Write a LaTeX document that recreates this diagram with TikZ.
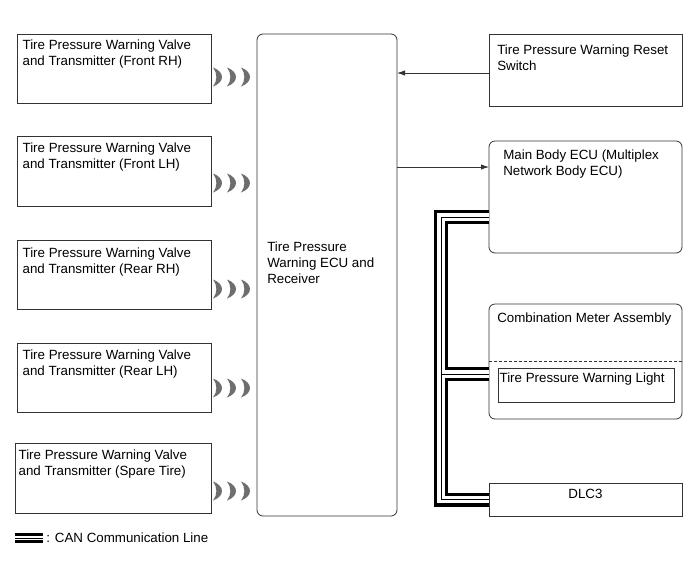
\documentclass[tikz,border=0pt]{standalone}
\usepackage{fontspec}
\setmainfont{Liberation Sans}
\usepackage{tikz}
\usetikzlibrary{arrows.meta, positioning}
\definecolor{boxline}{HTML}{333333}
\definecolor{wavegray}{HTML}{6E6E6E}

\begin{document}
\begin{tikzpicture}[x=0.75pt, y=-0.75pt, >={Latex[length=6pt,width=4pt]},
  every node/.style={font=\fontsize{10}{12}\selectfont},
  unit/.style={draw=boxline, line width=0.6pt, rectangle, anchor=north west, inner sep=0pt, outer sep=0pt},
  roundunit/.style={unit, rounded corners=4.5pt},
  txt/.style={anchor=north west, align=left, inner sep=0pt},
  canline/.style={line width=0.75pt, preaction={draw, line width=10.5pt}, preaction={draw=white, line width=5.4pt}},
  canlegend/.style={line width=0.6pt, preaction={draw, line width=7pt}, preaction={draw=white, line width=3.5pt}},
  waves/.pic={
    \foreach \dx in {0,14,28}
      \fill[wavegray] (\dx,-9.5) .. controls (\dx+12,-5) and (\dx+12,5) .. (\dx,9.5)
        .. controls (\dx+4.5,4) and (\dx+4.5,-4) .. cycle;
  }]

\useasboundingbox (0,0) rectangle (690,562);

% Transmitters on the left
\node[unit, minimum width=145.5pt, minimum height=51.75pt] (fr) at (17,34) {};
\node[txt, below right=4.5pt and 4pt of fr.north west] (frt) {Tire Pressure Warning Valve\\and Transmitter (Front RH)};
\node[unit, minimum width=145.5pt, minimum height=52.5pt] (fl) at (17,136) {};
\node[txt, below right=5pt and 4pt of fl.north west] (flt) {Tire Pressure Warning Valve\\and Transmitter (Front LH)};
\node[unit, minimum width=145.5pt, minimum height=51.75pt] (rr) at (17,240) {};
\node[txt, below right=5.5pt and 4pt of rr.north west] (rrt) {Tire Pressure Warning Valve\\and Transmitter (Rear RH)};
\node[unit, minimum width=145.5pt, minimum height=51.75pt] (rl) at (17,343) {};
\node[txt, below right=5pt and 4pt of rl.north west] (rlt) {Tire Pressure Warning Valve\\and Transmitter (Rear LH)};
\node[unit, minimum width=147pt, minimum height=52.5pt] (sp) at (15,443) {};
\node[txt, below right=5pt and 2.5pt of sp.north west] (spt) {Tire Pressure Warning Valve\\and Transmitter (Spare Tire)};

% Radio waves
\pic at (213,77) {waves};
\pic at (213,183) {waves};
\pic at (213,289) {waves};
\pic at (213,388) {waves};
\pic at (213,491) {waves};

% ECU and receiver
\node[roundunit, minimum width=105pt, minimum height=361.5pt] (ecu) at (257,34) {};
\node[txt] (ecut) at (267,242) {Tire Pressure\\Warning ECU and\\Receiver};

% Units on the right
\node[unit, minimum width=144.75pt, minimum height=54pt] (rst) at (489,34) {};
\node[txt, below right=8.25pt and 6pt of rst.north west] (rstt) {Tire Pressure Warning Reset\\Switch};
\node[roundunit, minimum width=144.75pt, minimum height=84pt] (mb) at (489,141) {};
\node[txt, below right=6.75pt and 10.5pt of mb.north west] (mbt) {Main Body ECU (Multiplex\\Network Body ECU)};
\node[roundunit, minimum width=144.75pt, minimum height=86.25pt] (cm) at (489,304) {};
\node[txt, below right=6.75pt and 6pt of cm.north west] (cmt) {Combination Meter Assembly};
\node[unit, minimum width=132pt, minimum height=25.5pt] (lt) at (498,368) {};
\node[txt, below right=3.75pt and 1pt of lt.north west] (ltt) {Tire Pressure Warning Light};
\node[unit, minimum width=144.75pt, minimum height=24.75pt] (dlc) at (489,483) {};
\node[txt, anchor=north, below=4.5pt of dlc.north] (dlct) {DLC3};

\coordinate (cmdash) at ([yshift=-42.75pt]cm.north west);
\draw[boxline, line width=0.5pt, dash pattern=on 2.25pt off 1.5pt] (cmdash) -- (cmdash -| cm.east);

% Signal lines
\draw[->, boxline, line width=0.6pt] ([yshift=-2.25pt]rst.west) -- ([yshift=-2.25pt]rst.west -| ecu.east);
\coordinate (mbin) at ([yshift=-19.5pt]mb.north west);
\draw[->, boxline, line width=0.6pt] (ecu.east |- mbin) -- (mbin);

% CAN bus
\coordinate (canmb) at ([yshift=-57pt]mb.north west);
\coordinate (cancm) at ([yshift=-52.5pt]cm.north west);
\coordinate (bus) at (441,0);
\draw[canline] (canmb) -| (bus |- dlc.west) -- (dlc.west) (cancm) -- (bus |- cancm);

% Legend
\draw[canlegend] (15,538) -- (43,538);
\node[anchor=west, inner sep=0pt] (legt) at (46,538) {: CAN Communication Line};

\end{tikzpicture}
\end{document}
